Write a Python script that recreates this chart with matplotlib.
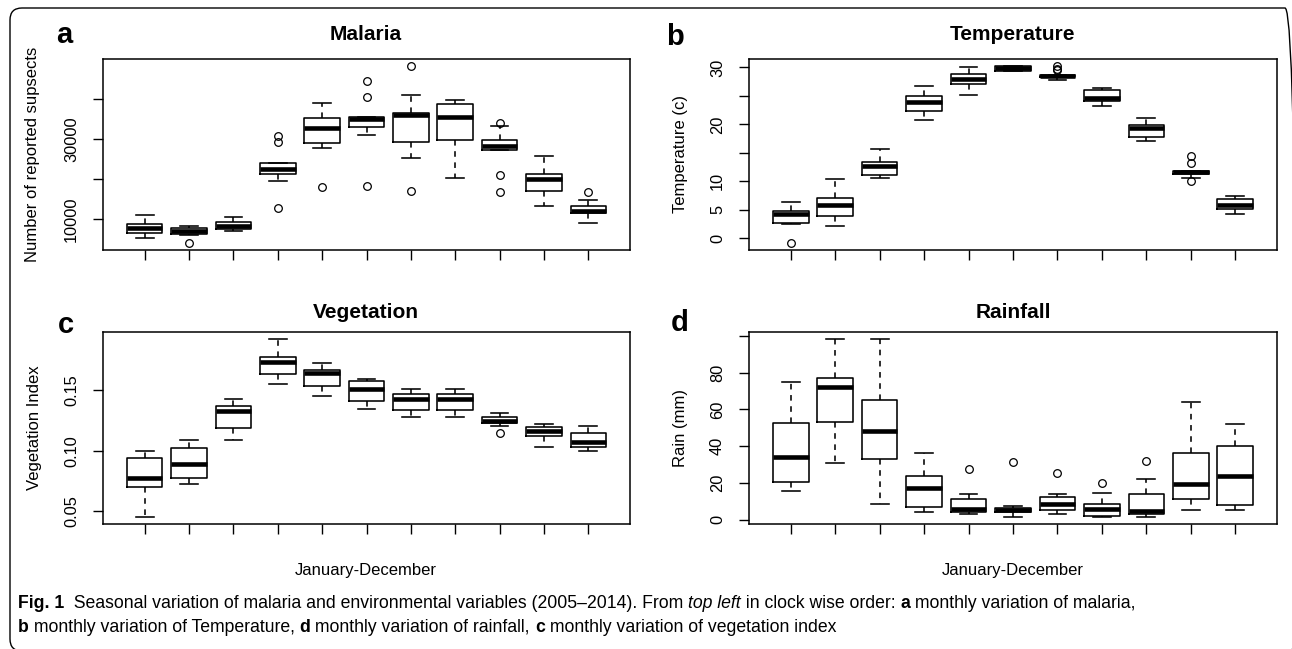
import numpy as np
import matplotlib
matplotlib.use("Agg")
import matplotlib.pyplot as plt
from matplotlib.patches import FancyBboxPatch
from matplotlib.transforms import IdentityTransform

plt.rcParams['font.family'] = ['Liberation Sans', 'DejaVu Sans']

# ---------------- data ----------------
months = ["Jan", "Feb", "Mar", "Apr", "May", "Jun", "Jul", "Aug", "Sep", "Oct", "Nov"]

mal_whislo = [5450, 6200, 7025, 19500, 27690, 31070, 25290, 20250, 27110, 13390, 9170]
mal_q1 = [6700, 6450, 7520, 21320, 29000, 32900, 29260, 29750, 27110, 17100, 11490]
mal_med = [7770, 7190, 8350, 22400, 32730, 34960, 36030, 35450, 28180, 20000, 11980]
mal_q3 = [8926, 7770, 9260, 23970, 35120, 35450, 36450, 38760, 29830, 21160, 13390]
mal_whishi = [11070, 8350, 10660, 23970, 38840, 35450, 40900, 39670, 33220, 25620, 14710]
mal_fliers = [[], [4130], [], [30740, 29260, 12800], [18100], [44300, 40330, 18350],
              [48100, 17100], [], [34050, 21070, 16860], [], [16860]]

tmp_whislo = [2.58, 2.17, 10.6, 20.8, 25.13, 29.41, 27.7, 23.26, 17.05, 10.66, 4.28]
tmp_q1 = [2.75, 3.92, 11.07, 22.26, 27.12, 29.41, 28.24, 24.14, 17.81, 11.25, 5.21]
tmp_med = [4.33, 5.80, 12.65, 23.84, 27.94, 29.82, 28.53, 24.66, 19.33, 11.6, 5.8]
tmp_q3 = [4.86, 7.09, 13.47, 24.9, 28.88, 30.23, 28.7, 26.07, 19.86, 11.78, 6.91]
tmp_whishi = [6.39, 10.49, 15.7, 26.77, 30.0, 30.23, 28.7, 26.42, 21.2, 11.78, 7.5]
tmp_fliers = [[-0.82], [], [], [], [], [], [30.23, 29.8, 29.5], [], [],
              [14.47, 13.18, 10.08], []]

veg_whislo = [0.0453, 0.0727, 0.1088, 0.1550, 0.1453, 0.1348, 0.1276, 0.1276, 0.1207, 0.1030, 0.1000]
veg_q1 = [0.0699, 0.0771, 0.1188, 0.1638, 0.1539, 0.1409, 0.1337, 0.1337, 0.1229, 0.1124, 0.1028]
veg_med = [0.0773, 0.0890, 0.1331, 0.1732, 0.1641, 0.1508, 0.1428, 0.1428, 0.1249, 0.1163, 0.1075]
veg_q3 = [0.0939, 0.1019, 0.1367, 0.1771, 0.1666, 0.1577, 0.1472, 0.1472, 0.1276, 0.1199, 0.1144]
veg_whishi = [0.1000, 0.1091, 0.1428, 0.1923, 0.1729, 0.1597, 0.1508, 0.1508, 0.1312, 0.1221, 0.1207]
veg_fliers = [[], [], [], [], [], [], [], [], [0.1144], [], []]

rain_whislo = [15.6, 30.7, 8.7, 4.0, 2.9, 1.6, 2.9, 1.6, 1.6, 5.3, 5.3]
rain_q1 = [20.3, 53.4, 33.0, 6.9, 4.0, 4.5, 5.3, 2.2, 3.3, 11.4, 8.0]
rain_med = [34.3, 72.05, 48.3, 17.4, 6.0, 5.4, 8.7, 6.0, 4.9, 19.2, 24.0]
rain_q3 = [52.8, 77.3, 65.2, 23.8, 11.4, 6.4, 12.5, 8.7, 14.3, 36.5, 40.1]
rain_whishi = [74.95, 98.2, 98.2, 36.5, 14.0, 7.4, 13.8, 14.7, 22.0, 63.9, 52.3]
rain_fliers = [[], [], [], [], [27.8], [31.4], [25.6], [20.0], [31.9], [], []]

mal_yticks = [10000, 20000, 30000, 40000]
mal_ylabels = ["10000", "", "30000", ""]
tmp_yticks = [0, 5, 10, 15, 20, 25, 30]
tmp_ylabels = ["0", "5", "10", "", "20", "", "30"]
veg_yticks = [0.05, 0.10, 0.15]
veg_ylabels = ["0.05", "0.10", "0.15"]
rain_yticks = [0, 20, 40, 60, 80, 100]
rain_ylabels = ["0", "20", "40", "60", "80", ""]

# ---------------- figure ----------------
W, H = 1292, 649
fig = plt.figure(figsize=(W / 100, H / 100), dpi=100)
fig.patch.set_facecolor('white')


def ax_rect(l, t, r, b):
    return [l / W, 1 - b / H, (r - l) / W, (b - t) / H]


def fx(x):
    return x / W


def fy(y):
    return 1 - y / H


def make_stats(lo, q1, med, q3, hi, fl):
    return [dict(whislo=a, q1=b, med=c, q3=d, whishi=e, fliers=f)
            for a, b, c, d, e, f in zip(lo, q1, med, q3, hi, fl)]


def draw_panel(rect, stats, yticks, ylabels):
    ax = fig.add_axes(rect)
    pos = np.arange(1, len(stats) + 1)
    ax.bxp(stats, positions=pos, widths=0.8, capwidths=0.4,
           boxprops=dict(color='black', lw=1.15),
           whiskerprops=dict(color='black', lw=1.15, linestyle=(0, (3.5, 3.5))),
           capprops=dict(color='black', lw=1.15),
           medianprops=dict(color='black', lw=3.3, solid_capstyle='butt'),
           flierprops=dict(marker='o', markerfacecolor='none', markeredgecolor='black',
                           markersize=5.5, markeredgewidth=0.9, linestyle='none'),
           manage_ticks=False)
    allv = [v for s in stats for v in [s['whislo'], s['whishi']] + list(s['fliers'])]
    lo, hi = min(allv), max(allv)
    pad = 0.04 * (hi - lo)
    ax.set_ylim(lo - pad, hi + pad)
    ax.set_xlim(0.06, len(stats) + 0.94)
    ax.set_xticks(pos)
    ax.set_xticklabels([])
    ax.set_yticks(yticks)
    ax.set_yticklabels(ylabels)
    ax.tick_params(axis='both', direction='out', length=7.2, width=1.0, color='black',
                   labelsize=11.8, pad=10)
    ax.tick_params(axis='y', labelrotation=90)
    for lbl in ax.get_yticklabels():
        lbl.set_va('center')
    for sp in ax.spines.values():
        sp.set_linewidth(1.1)
        sp.set_color('black')
    return ax


axA = draw_panel(ax_rect(103, 59, 630, 250), make_stats(mal_whislo, mal_q1, mal_med, mal_q3, mal_whishi, mal_fliers),
                 mal_yticks, mal_ylabels)
axB = draw_panel(ax_rect(749, 59, 1277, 250), make_stats(tmp_whislo, tmp_q1, tmp_med, tmp_q3, tmp_whishi, tmp_fliers),
                 tmp_yticks, tmp_ylabels)
axC = draw_panel(ax_rect(103, 332, 630, 524), make_stats(veg_whislo, veg_q1, veg_med, veg_q3, veg_whishi, veg_fliers),
                 veg_yticks, veg_ylabels)
axD = draw_panel(ax_rect(749, 332, 1277, 524), make_stats(rain_whislo, rain_q1, rain_med, rain_q3, rain_whishi, rain_fliers),
                 rain_yticks, rain_ylabels)

# titles
for x, y, t in [(366, 35, "Malaria"), (1013, 35, "Temperature"),
                (366, 312, "Vegetation"), (1013, 312, "Rainfall")]:
    fig.text(fx(x), fy(y), t, ha='center', va='center', fontsize=15, fontweight='bold')

# panel letters
for x, y, t in [(64, 35, "a"), (675, 37, "b"), (66, 325, "c"), (680, 323, "d")]:
    fig.text(fx(x), fy(y), t, ha='center', va='center', fontsize=21, fontweight='bold')

# y labels
for x, y, t in [(33, 154, "Number of reported supsects"), (680, 154, "Temperature (c)"),
                (34, 428, "Vegetation Index"), (680, 428, "Rain (mm)")]:
    fig.text(fx(x), fy(y), t, ha='center', va='center', rotation=90, fontsize=12)

# x labels
for x in [366, 1013]:
    fig.text(fx(x), fy(571), "January-December", ha='center', va='center', fontsize=12)

# ---------------- caption ----------------
cap_family = ['Liberation Sans Narrow', 'Liberation Sans', 'DejaVu Sans']
line1 = [("Fig. 1", 'bold', 'normal'), ("  Seasonal variation of malaria and environmental variables (2005\u20132014). From ", 'normal', 'normal'),
         ("top left", 'normal', 'italic'), (" in clock wise order: ", 'normal', 'normal'),
         ("a", 'bold', 'normal'), (" monthly variation of malaria,", 'normal', 'normal')]
line2 = [("b", 'bold', 'normal'), (" monthly variation of Temperature, ", 'normal', 'normal'),
         ("d", 'bold', 'normal'), (" monthly variation of rainfall, ", 'normal', 'normal'),
         ("c", 'bold', 'normal'), (" monthly variation of vegetation index", 'normal', 'normal')]

renderer = fig.canvas.get_renderer()


def advance(s, size, weight, style):
    t1 = fig.text(0, 0, s + "|", fontsize=size, fontweight=weight, fontstyle=style, family=cap_family)
    t2 = fig.text(0, 0, "|", fontsize=size, fontweight=weight, fontstyle=style, family=cap_family)
    w = t1.get_window_extent(renderer).width - t2.get_window_extent(renderer).width
    t1.remove()
    t2.remove()
    return w


def line_width(pieces, size):
    return sum(advance(s, size, w, st) for s, w, st in pieces)


base = 12.0
target = 1140 - 18
size = base * target / line_width(line1, base)


def draw_line(pieces, x0, y, size):
    x = x0
    for s, w, st in pieces:
        fig.text(fx(x), fy(y), s, ha='left', va='baseline', fontsize=size, fontweight=w,
                 fontstyle=st, family=cap_family)
        x += advance(s, size, w, st)


draw_line(line1, 18, 608, size)
draw_line(line2, 18, 632, size)

# outer rounded frame (partly cut off at right and bottom)
frame = FancyBboxPatch((10, -2), 1287, H - 8 - (-2), boxstyle="round,pad=0,rounding_size=12",
                       transform=IdentityTransform(), fill=False, edgecolor='black', linewidth=1.0)
fig.add_artist(frame)

fig.savefig("out.png", dpi=100, facecolor='white')
